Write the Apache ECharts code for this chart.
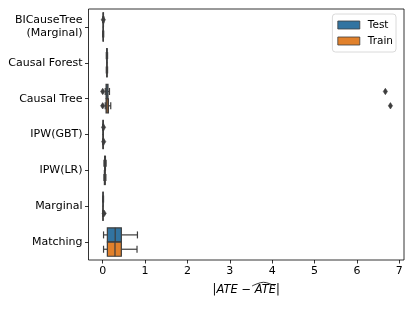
<!DOCTYPE html>
<html>
<head>
<meta charset="utf-8">
<script src="https://cdn.jsdelivr.net/npm/echarts@6/dist/echarts.min.js"></script>
<style>
html,body{margin:0;padding:0;background:#fff;}
#chart{width:415px;height:311px;}
</style>
</head>
<body>
<div id="chart"></div>
<script>
// ---- data ----
const categories = ['BICauseTree\n(Marginal)', 'Causal Forest', 'Causal Tree', 'IPW(GBT)', 'IPW(LR)', 'Marginal', 'Matching'];
const hueNames = ['Test', 'Train'];
// [lower whisker, Q1, median, Q3, upper whisker]
const testStats = [
  [0.000, 0.008, 0.012, 0.018, 0.028],
  [0.085, 0.095, 0.100, 0.105, 0.115],
  [0.060, 0.080, 0.100, 0.125, 0.160],
  [0.000, 0.005, 0.010, 0.015, 0.022],
  [0.030, 0.045, 0.055, 0.065, 0.080],
  [0.000, 0.005, 0.008, 0.012, 0.020],
  [0.020, 0.110, 0.295, 0.440, 0.820]
];
const trainStats = [
  [0.000, 0.008, 0.012, 0.016, 0.024],
  [0.085, 0.095, 0.100, 0.105, 0.115],
  [0.060, 0.080, 0.100, 0.135, 0.190],
  [0.000, 0.005, 0.010, 0.015, 0.022],
  [0.030, 0.040, 0.050, 0.060, 0.075],
  [0.000, 0.004, 0.007, 0.010, 0.018],
  [0.020, 0.110, 0.290, 0.440, 0.810]
];
const testOutliers = [[0.015], [], [0.000, 6.67], [0.020], [], [], []];
const trainOutliers = [[], [], [0.000, 6.79], [0.024], [], [0.035], []];
const xTicks = [0, 1, 2, 3, 4, 5, 6, 7];

// ---- styling ----
const colors = ['#3274a1', '#e1812c'];
const gray = '#3d3d3d';
const FONT = 'DejaVu Sans';

function boxData(stats) {
  return stats.map((s, i) => [i].concat(s));
}
function flierData() {
  const out = [];
  [testOutliers, trainOutliers].forEach((arr, h) => {
    arr.forEach((vals, i) => vals.forEach(v => out.push([v, i, h])));
  });
  return out;
}

function boxRenderer(hue) {
  return function (params, api) {
    const cat = api.value(0);
    const band = api.size([0, 1])[1];
    const off = (hue - 0.5) * 0.4 * band;
    const h = 0.4 * band * 0.98;
    const y = api.coord([0, cat])[1] + off;
    const px = v => api.coord([v, cat])[0];
    const mn = px(api.value(1)), q1 = px(api.value(2)), md = px(api.value(3)),
          q3 = px(api.value(4)), mx = px(api.value(5));
    const ls = { stroke: gray, lineWidth: 1.2 };
    return {
      type: 'group',
      children: [
        { type: 'line', shape: { x1: mn, y1: y, x2: q1, y2: y }, style: ls },
        { type: 'line', shape: { x1: q3, y1: y, x2: mx, y2: y }, style: ls },
        { type: 'line', shape: { x1: mn, y1: y - h / 4, x2: mn, y2: y + h / 4 }, style: ls },
        { type: 'line', shape: { x1: mx, y1: y - h / 4, x2: mx, y2: y + h / 4 }, style: ls },
        { type: 'rect', shape: { x: q1, y: y - h / 2, width: q3 - q1, height: h },
          style: { fill: colors[hue], stroke: gray, lineWidth: 1.2 } },
        { type: 'line', shape: { x1: md, y1: y - h / 2, x2: md, y2: y + h / 2 }, style: ls }
      ]
    };
  };
}

function flierRenderer(params, api) {
  const v = api.value(0), cat = api.value(1), hue = api.value(2);
  const band = api.size([0, 1])[1];
  const off = (hue - 0.5) * 0.4 * band;
  const c = api.coord([v, cat]);
  const x = c[0], y = c[1] + off;
  const hh = 3.2, hw = 2.1;
  return {
    type: 'polygon',
    shape: { points: [[x, y - hh], [x + hw, y], [x, y + hh], [x - hw, y]] },
    style: { fill: gray, stroke: gray, lineWidth: 0.6 }
  };
}

const chart = echarts.init(document.getElementById('chart'), null, { renderer: 'canvas' });
const option = {
  animation: false,
  backgroundColor: '#fff',
  textStyle: { fontFamily: FONT },
  grid: { left: 88.5, right: 11, top: 9, bottom: 51, show: true, borderColor: '#000', borderWidth: 0.8, containLabel: false },
  legend: {
    data: hueNames,
    orient: 'vertical',
    right: 19,
    top: 14,
    itemWidth: 22,
    itemHeight: 8,
    itemGap: 5,
    icon: 'rect',
    padding: [5.5, 3, 5.5, 5],
    borderColor: '#d0d0d0',
    borderWidth: 0.8,
    borderRadius: 3,
    backgroundColor: 'rgba(255,255,255,0.8)',
    textStyle: { fontFamily: FONT, fontSize: 10.5, color: '#000', padding: [0, 0, 0, 3] },
    itemStyle: { borderColor: gray, borderWidth: 0.8 }
  },
  xAxis: {
    type: 'value',
    min: -0.335,
    max: 7.11,
    splitLine: { show: false },
    axisLine: { show: false, onZero: false },
    axisTick: { show: true, length: 3.5, lineStyle: { color: '#000', width: 0.8 }, customValues: xTicks },
    axisLabel: { fontFamily: FONT, fontSize: 11, color: '#000', margin: 6, customValues: xTicks },
    name: '|ATE − ATE|',
    nameLocation: 'middle',
    nameGap: 24,
    nameTextStyle: { fontFamily: FONT, fontSize: 11.5, fontStyle: 'italic', color: '#000' }
  },
  yAxis: {
    type: 'category',
    data: categories,
    inverse: true,
    axisLine: { show: false, onZero: false },
    splitLine: { show: false },
    axisTick: { show: true, length: 3.5, alignWithLabel: true, lineStyle: { color: '#000', width: 0.8 } },
    axisLabel: { fontFamily: FONT, fontSize: 11, color: '#000', margin: 6, lineHeight: 13 }
  },
  graphic: [
    {
      type: 'polyline',
      z: 100,
      shape: { points: [[252, 286], [258, 283.5], [263.5, 282.3], [269, 283.5], [275, 286]], smooth: 0.4 },
      style: { stroke: '#000', lineWidth: 0.8, fill: null }
    }
  ],
  series: [
    { name: 'Test', type: 'custom', renderItem: boxRenderer(0), data: boxData(testStats),
      itemStyle: { color: colors[0] }, encode: { x: [1, 2, 3, 4, 5], y: 0 }, clip: false },
    { name: 'Train', type: 'custom', renderItem: boxRenderer(1), data: boxData(trainStats),
      itemStyle: { color: colors[1] }, encode: { x: [1, 2, 3, 4, 5], y: 0 }, clip: false },
    { name: 'outliers', type: 'custom', renderItem: flierRenderer, data: flierData(),
      encode: { x: 0, y: 1 }, clip: false, z: 3 }
  ]
};
chart.setOption(option);
</script>
</body>
</html>
